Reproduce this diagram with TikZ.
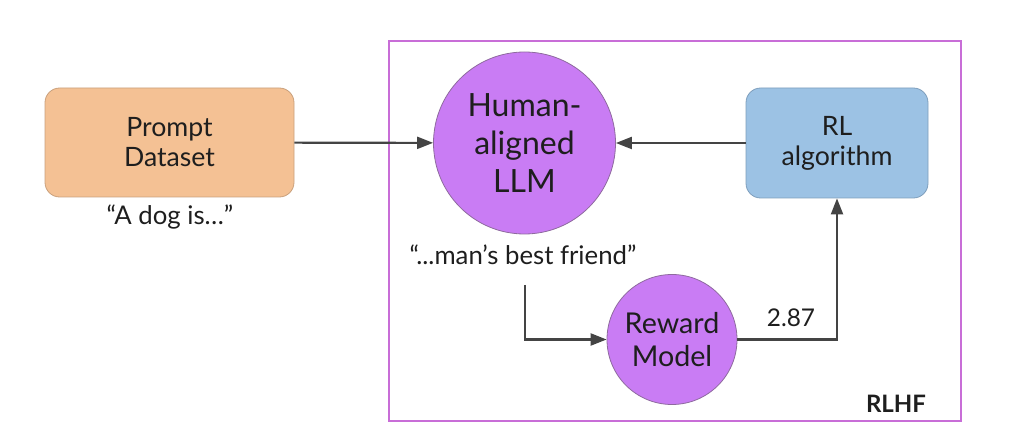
\documentclass[tikz,border=0pt]{standalone}
\usepackage{fontspec}
\setmainfont{Lato}
\usetikzlibrary{positioning,arrows.meta}
\definecolor{promptfill}{HTML}{F4C194}
\definecolor{promptline}{HTML}{C9A07C}
\definecolor{llmfill}{HTML}{C97CF4}
\definecolor{llmline}{HTML}{8E6A9E}
\definecolor{rlfill}{HTML}{9CC2E4}
\definecolor{rlline}{HTML}{7E9EBC}
\definecolor{framecol}{HTML}{C86DD7}
\definecolor{arrowcol}{HTML}{444444}
\definecolor{textcol}{HTML}{1E1E1E}
\begin{document}
\begin{tikzpicture}[x=0.75pt,y=-0.75pt,
		every node/.style={text=textcol},
		box/.style={draw, line width=0.6pt, rounded corners=11pt, inner sep=0pt, align=center,
			font=\fontsize{20}{22.5}\selectfont},
		model/.style={circle, draw=llmline, fill=llmfill, line width=0.6pt, inner sep=0pt, align=center},
		flow/.style={draw=arrowcol, line width=1.6pt, -{Triangle[length=12pt,width=9pt]}},
		note/.style={anchor=base, font=\fontsize{19.3}{22}\selectfont}]
		\useasboundingbox (0,0) rectangle (1024,441);
		% RLHF frame
		\draw[framecol, line width=1.5pt] (389,41) rectangle (961,421);
		\node[anchor=base, font=\fontsize{18}{21}\selectfont\bfseries] (rlhf) at (896,412) {RLHF};
		% nodes
		\node[box, fill=promptfill, draw=promptline, minimum width=186.75pt, minimum height=81.75pt] (prompt) at (169.5,142.5) {Prompt\\Dataset};
		\node[model, minimum size=136.5pt, font=\fontsize{24}{28.5}\selectfont] (llm) at (524.5,143) {Human-\\aligned\\LLM};
		\node[box, fill=rlfill, draw=rlline, minimum width=136.5pt, minimum height=82.5pt] (rl) at (837,143) {RL\\algorithm};
		\node[model, minimum size=97.5pt, font=\fontsize{21.5}{24.75}\selectfont] (reward) at (672,339.5) {Reward\\Model};
		% texts
		\node[note] (dog) at (170,225) {“A dog is…”};
		\node[note] (friend) at (523,265) {“...man’s best friend”};
		\node[note, font=\fontsize{18.3}{21}\selectfont] (score) at (791,327) {2.87};
		\coordinate (out) at (525,285);
		% connectors
		\draw[flow] (prompt) -- (llm);
		\draw[flow] (rl) -- (llm);
		\draw[flow] (out) |- (reward);
		\draw[flow] (reward) -| (rl);
\end{tikzpicture}
\end{document}
